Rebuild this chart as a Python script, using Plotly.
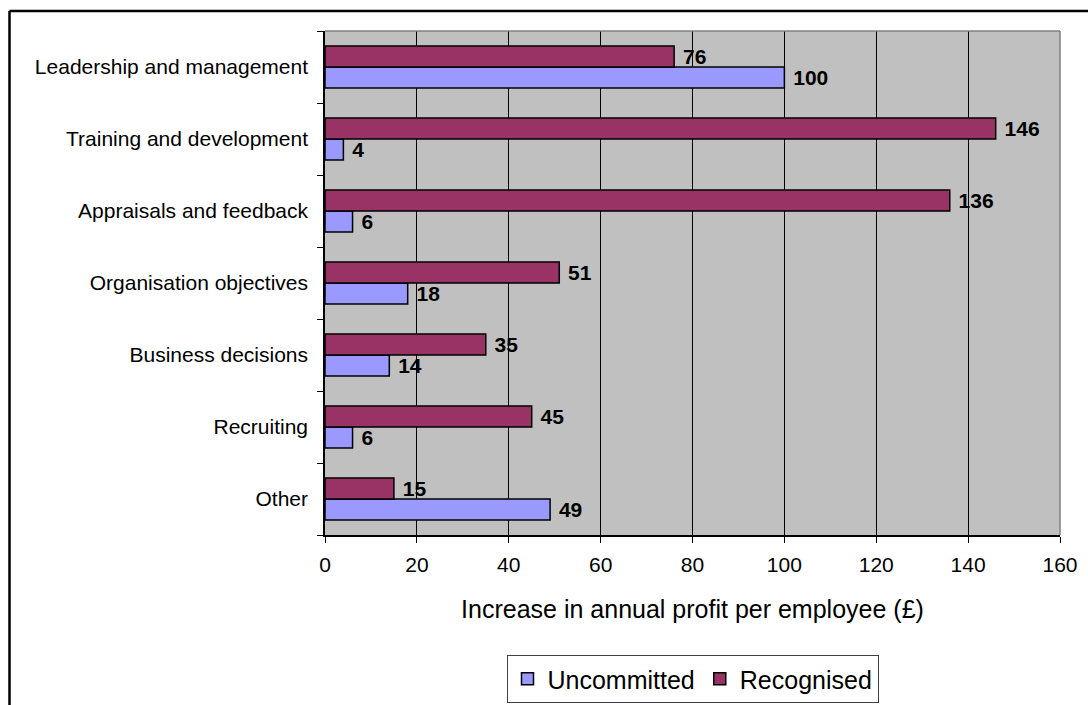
import plotly.graph_objects as go

# Categories listed top to bottom as they appear on the chart
categories = [
    "Leadership and management",
    "Training and development",
    "Appraisals and feedback",
    "Organisation objectives",
    "Business decisions",
    "Recruiting",
    "Other",
]
uncommitted = [100, 4, 6, 18, 14, 6, 49]
recognised = [76, 146, 136, 51, 35, 45, 15]
x_ticks = [0, 20, 40, 60, 80, 100, 120, 140, 160]

FONT = "Liberation Sans, Arial, sans-serif"

fig = go.Figure()
fig.add_trace(go.Bar(
    name="Uncommitted", y=categories, x=uncommitted, orientation="h",
    marker=dict(color="#9999FF", line=dict(color="black", width=1.5)),
    texttemplate="\u00a0%{x}", textposition="outside", constraintext="none",
    cliponaxis=False,
    textfont=dict(family=FONT, size=21, color="black", weight="bold"),
))
fig.add_trace(go.Bar(
    name="Recognised", y=categories, x=recognised, orientation="h",
    marker=dict(color="#993366", line=dict(color="black", width=1.5)),
    texttemplate="\u00a0%{x}", textposition="outside", constraintext="none",
    cliponaxis=False,
    textfont=dict(family=FONT, size=21, color="black", weight="bold"),
))

W, H = 1088, 705
L, R, T, B = 325, 28, 31, 170
pw, ph = W - L - R, H - T - B


def px_x(p):
    return (p - L) / pw


def px_y(p):
    return (H - B - p) / ph


fig.update_layout(
    width=W, height=H,
    margin=dict(l=L, r=R, t=T, b=B, autoexpand=False),
    paper_bgcolor="white",
    plot_bgcolor="#C0C0C0",
    barmode="group",
    bargap=0.417,
    bargroupgap=0,
    font=dict(family=FONT, color="black"),
    showlegend=True,
    legend=dict(
        orientation="h", x=0.5, xanchor="center", y=px_y(703), yanchor="bottom",
        font=dict(family=FONT, size=25, color="black"),
        bgcolor="white", bordercolor="#404040", borderwidth=1,
        traceorder="normal",
    ),
    xaxis=dict(
        range=[0, 160], tickvals=x_ticks, ticktext=[str(v) for v in x_ticks],
        showgrid=True, gridcolor="black", gridwidth=1,
        zeroline=False,
        showline=True, linecolor="black", linewidth=1.5,
        ticks="outside", ticklen=6, tickcolor="black", tickwidth=1,
        tickfont=dict(family=FONT, size=21, color="black"),
        ticklabelstandoff=4,
        title=dict(text="Increase in annual profit per employee (£)",
                   font=dict(family=FONT, size=25, color="black"),
                   standoff=26),
        fixedrange=True,
    ),
    yaxis=dict(
        categoryorder="array", categoryarray=categories[::-1],
        showgrid=False, zeroline=False,
        showline=True, linecolor="black", linewidth=1.5,
        ticks="outside", ticklen=6, tickcolor="black", tickwidth=1,
        tickson="boundaries",
        tickfont=dict(family=FONT, size=21, color="black"),
        ticklabelstandoff=11,
        fixedrange=True,
    ),
    shapes=[
        # grey top and right edges of the plotting area
        dict(type="line", xref="paper", yref="paper", x0=0, x1=1, y0=1, y1=1,
             line=dict(color="#808080", width=1.5), layer="above"),
        dict(type="line", xref="paper", yref="paper", x0=1, x1=1, y0=0, y1=1,
             line=dict(color="#808080", width=1.5), layer="above"),
        # outer chart frame: top and left edges
        dict(type="line", xref="paper", yref="paper",
             x0=px_x(9.5), x1=px_x(W), y0=px_y(11), y1=px_y(11),
             line=dict(color="black", width=2.5), layer="above"),
        dict(type="line", xref="paper", yref="paper",
             x0=px_x(9.5), x1=px_x(9.5), y0=px_y(11), y1=px_y(H),
             line=dict(color="black", width=2.5), layer="above"),
    ],
)

fig.write_html("out.html")
